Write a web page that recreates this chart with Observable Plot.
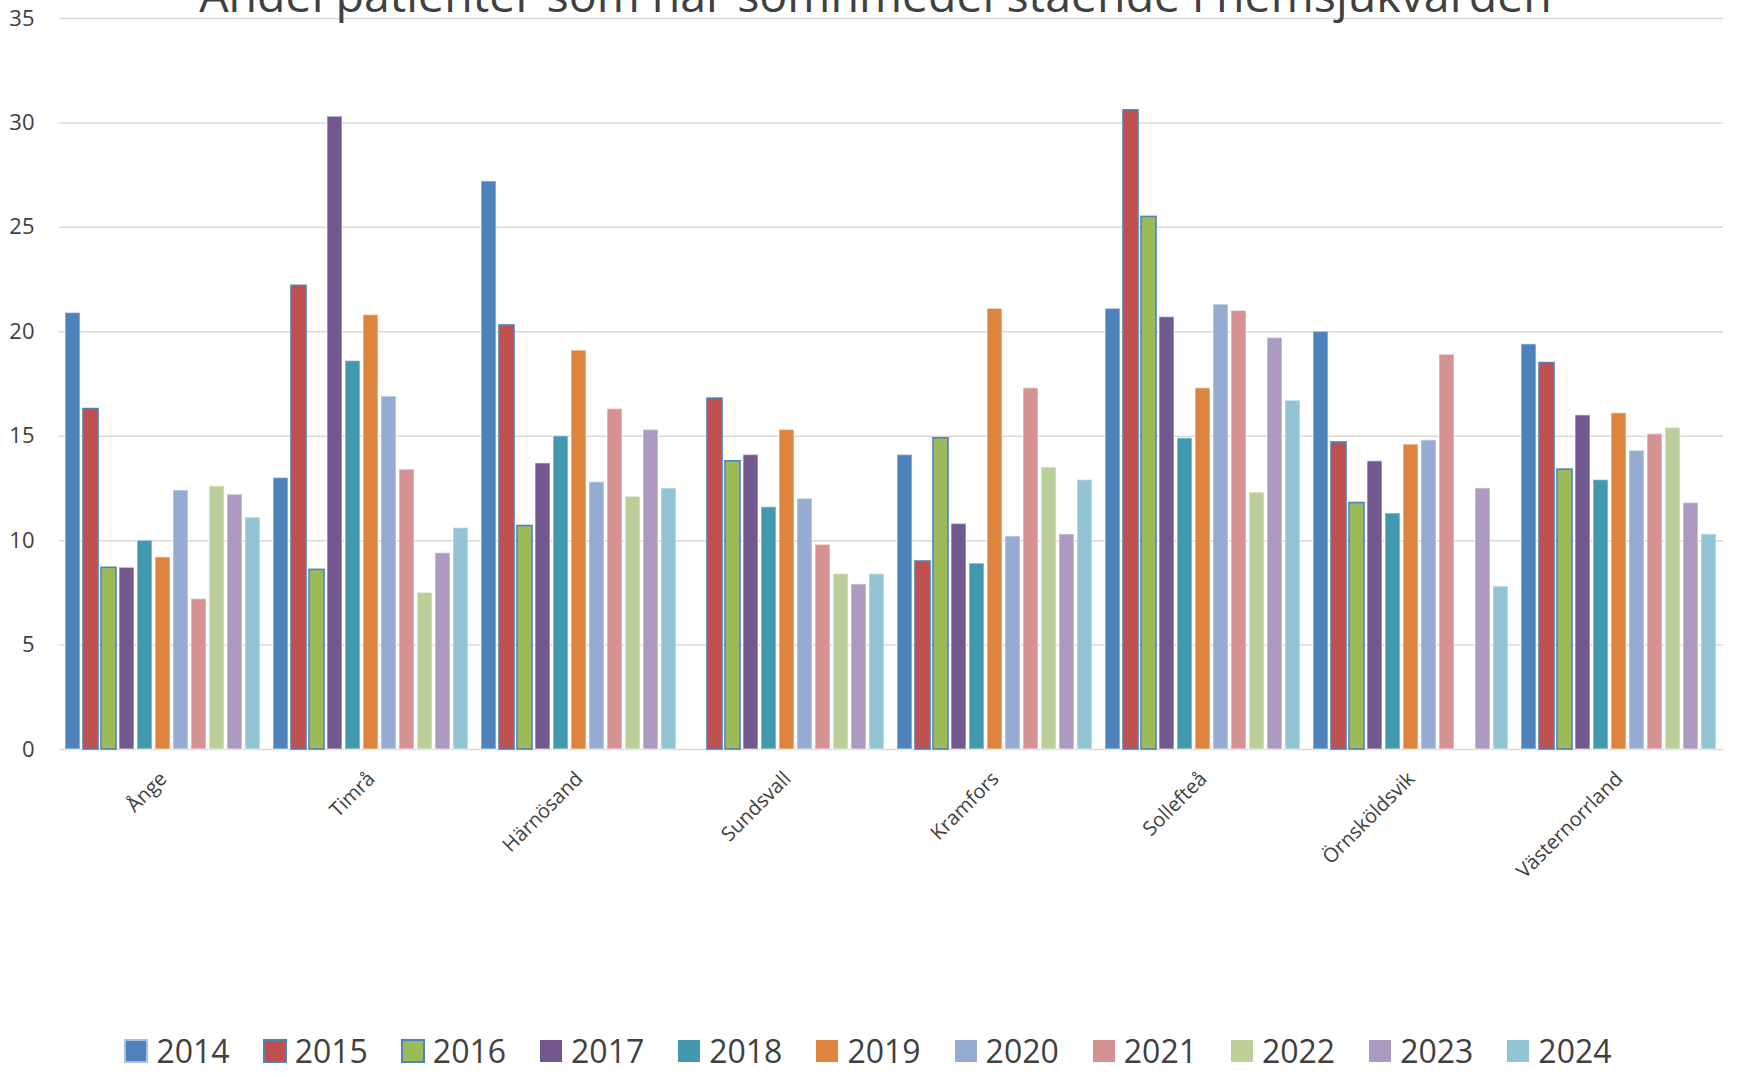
<!DOCTYPE html>
<html>
<head>
<meta charset="utf-8">
<script src="https://cdn.jsdelivr.net/npm/d3@7"></script>
<script src="https://cdn.jsdelivr.net/npm/@observablehq/plot@0.6"></script>
<style>
  html, body { margin: 0; padding: 0; background: #fff; }
  #wrap { position: relative; width: 1737px; height: 1077px; overflow: hidden; background: #fff; }
  #title { position: absolute; left: 0; top: -29px; width: 1737px; padding-left: 14px; box-sizing: border-box;
           text-align: center; font-family: "Open Sans", sans-serif; font-size: 46.5px; line-height: 46.5px;
           color: #404040; white-space: nowrap; }
  #chart { position: absolute; left: 0; top: 0; }
  #chart g[aria-label^="y-axis"] text { font-size: 22px; }
  #legend { position: absolute; left: 0; top: 1035px; width: 1737px; display: flex; justify-content: center; }
  #legend > div { justify-content: center; margin: 0 !important; font-family: "Open Sans", sans-serif !important;
                  font-size: 32px !important; line-height: 32px !important; min-height: 32px !important; color: #404040 !important; }
  #legend span { margin-right: 34px !important; }
  #legend span:last-of-type { margin-right: 0 !important; }
  #legend span svg { margin-right: 9px !important; }
  #legend span:nth-of-type(1) svg rect { stroke: #a9c1df; stroke-width: 2px; }
  #legend span:nth-of-type(2) svg rect, #legend span:nth-of-type(3) svg rect { stroke: #4F81BD; stroke-width: 2px; }
</style>
</head>
<body>
<div id="wrap">
  <div id="chart"></div>
  <div id="title">Andel patienter som har sömnmedel stående i hemsjukvården</div>
  <div id="legend"></div>
</div>
<script>
const cities = ["Ånge", "Timrå", "Härnösand", "Sundsvall", "Kramfors", "Sollefteå", "Örnsköldsvik", "Västernorrland"];
const years = ["2014", "2015", "2016", "2017", "2018", "2019", "2020", "2021", "2022", "2023", "2024"];
const colors = ["#4F81BD", "#C0504D", "#9BBB59", "#72588F", "#4198AF", "#DD843E", "#95ABD2", "#D59292", "#BBCF99", "#AB9BC0", "#93C4D5"];
const yTicks = [0, 5, 10, 15, 20, 25, 30, 35];

const v2014 = [20.9, 13.0, 27.2, null, 14.1, 21.1, 20.0, 19.4];
const v2015 = [16.3, 22.2, 20.3, 16.8, 9.0, 30.6, 14.7, 18.5];
const v2016 = [8.7, 8.6, 10.7, 13.8, 14.9, 25.5, 11.8, 13.4];
const v2017 = [8.7, 30.3, 13.7, 14.1, 10.8, 20.7, 13.8, 16.0];
const v2018 = [10.0, 18.6, 15.0, 11.6, 8.9, 14.9, 11.3, 12.9];
const v2019 = [9.2, 20.8, 19.1, 15.3, 21.1, 17.3, 14.6, 16.1];
const v2020 = [12.4, 16.9, 12.8, 12.0, 10.2, 21.3, 14.8, 14.3];
const v2021 = [7.2, 13.4, 16.3, 9.8, 17.3, 21.0, 18.9, 15.1];
const v2022 = [12.6, 7.5, 12.1, 8.4, 13.5, 12.3, null, 15.4];
const v2023 = [12.2, 9.4, 15.3, 7.9, 10.3, 19.7, 12.5, 11.8];
const v2024 = [11.1, 10.6, 12.5, 8.4, 12.9, 16.7, 7.8, 10.3];

const series = [v2014, v2015, v2016, v2017, v2018, v2019, v2020, v2021, v2022, v2023, v2024];
const data = [];
cities.forEach((c, i) => years.forEach((yr, j) => {
  const v = series[j][i];
  if (v != null) data.push({city: c, year: yr, value: v});
}));

const blueEdged = new Set(["2015", "2016"]);

const chart = Plot.plot({
  width: 1737,
  height: 900,
  marginTop: 18,
  marginBottom: 151,
  marginLeft: 58,
  marginRight: 13,
  style: {fontFamily: "Open Sans, sans-serif", fontSize: "20px", color: "#404040", background: "transparent"},
  fx: {domain: cities, padding: 0, axis: "bottom", tickRotate: -45, tickSize: 0, tickPadding: 26, label: null},
  x: {domain: years, paddingInner: 0.142, paddingOuter: 0.26, axis: null},
  y: {domain: [0, 35], ticks: yTicks, tickSize: 0, tickPadding: 25, label: null},
  color: {domain: years, range: colors},
  marks: [
    Plot.ruleY(yTicks, {stroke: "#d9d9d9", strokeWidth: 1.5}),
    Plot.barY(data, {fx: "city", x: "year", y: "value", fill: "year"}),
    Plot.barY(data, {fx: "city", x: "year", y: "value", fill: "none", stroke: "white", strokeOpacity: 0.45, strokeWidth: 1.5,
                     filter: d => !blueEdged.has(d.year)}),
    Plot.barY(data, {fx: "city", x: "year", y: "value", fill: "none", stroke: "#4F81BD", strokeWidth: 1.6,
                     filter: d => blueEdged.has(d.year)})
  ]
});
document.getElementById("chart").appendChild(chart);

const legend = chart.legend("color", {swatchSize: 22, className: "leg"});
document.getElementById("legend").appendChild(legend);
</script>
</body>
</html>
